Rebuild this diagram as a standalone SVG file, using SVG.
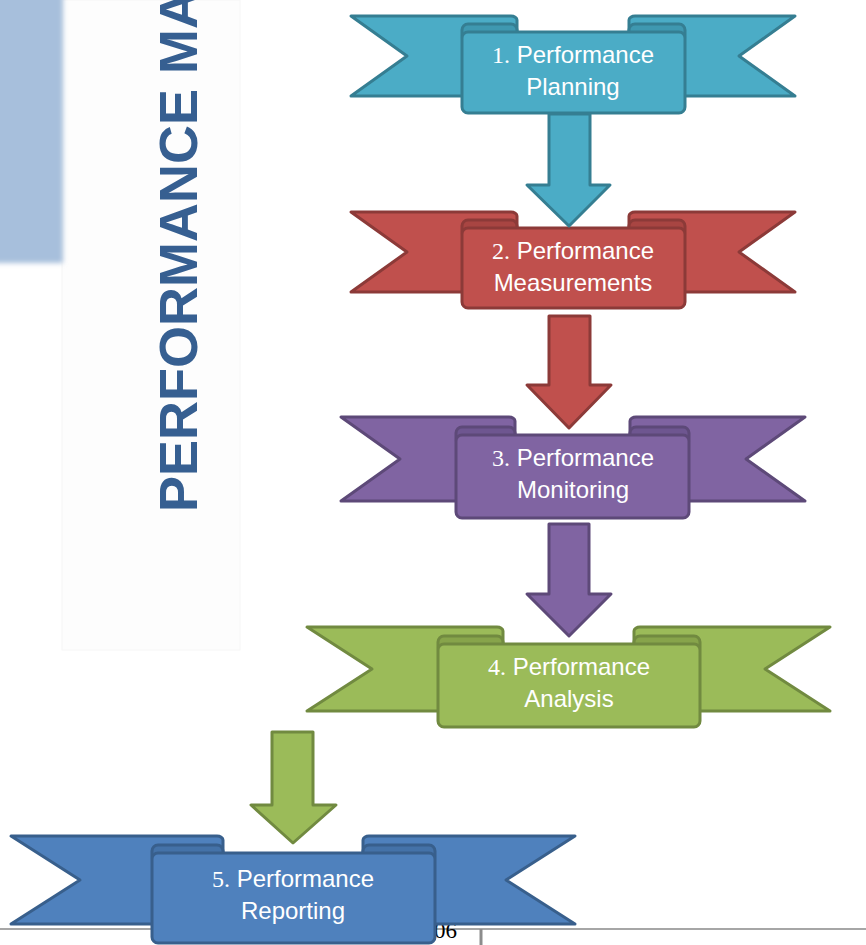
<svg xmlns="http://www.w3.org/2000/svg" width="866" height="945" viewBox="0 0 866 945">
<defs>
<filter id="soft" x="-20%" y="-20%" width="140%" height="140%"><feGaussianBlur stdDeviation="2.5"/></filter>
</defs>
<style>
.lbl{font-family:"Liberation Sans",Arial,sans-serif;font-size:24px;fill:#ffffff;text-anchor:middle}
.num{font-family:"Liberation Serif","Times New Roman",serif}
.s{stroke-width:3;stroke-linejoin:round}
.c1{fill:#4BACC6;stroke:#357E92}.c1r{fill:#3F98B0;stroke:#357E92}
.c2{fill:#C0504D;stroke:#8C3A38}.c2r{fill:#A84542;stroke:#8C3A38}
.c3{fill:#8064A2;stroke:#5D4978}.c3r{fill:#6E5690;stroke:#5D4978}
.c4{fill:#9BBB59;stroke:#718A40}.c4r{fill:#87A44B;stroke:#718A40}
.c5{fill:#4F81BD;stroke:#385F8C}.c5r{fill:#4472A8;stroke:#385F8C}
</style>
<rect width="866" height="945" fill="#ffffff"/>
<g id="background">
<rect x="62" y="0" width="178" height="650" fill="#FDFDFD" stroke="#F6F6F6" stroke-width="1"/>
<rect x="-10" y="-10" width="73" height="273" fill="#A7BFDC" filter="url(#soft)"/>
<text transform="translate(197,512) rotate(-90)" font-family="'Liberation Sans',Arial,sans-serif" font-size="54" font-weight="bold" fill="#365F91">PERFORMANCE MA</text>
<line x1="0" y1="929" x2="866" y2="929" stroke="#A6A6A6" stroke-width="2"/>
<line x1="481" y1="929" x2="481" y2="945" stroke="#8C8C8C" stroke-width="3"/>
<text x="434" y="938" font-family="'Liberation Serif','Times New Roman',serif" font-size="23" fill="#000000">06</text>
</g>
<g id="node1">
<path class="s c1" d="M351,16 H511 A6,4 0 0 1 517,20 V96 H351 L407,56 Z"/>
<path class="s c1" d="M795,16 H635 A6,4 0 0 0 629,20 V96 H795 L739,56 Z"/>
<rect class="s c1r" x="462" y="24" width="55" height="18" rx="6"/>
<rect class="s c1r" x="629" y="24" width="56" height="18" rx="6"/>
<rect class="s c1" x="462" y="32" width="223" height="81" rx="6"/>
<text class="lbl" x="573" y="63"><tspan class="num">1.</tspan> Performance</text>
<text class="lbl" x="573" y="95">Planning</text>
</g>
<g id="node2">
<path class="s c2" d="M351,212 H511 A6,4 0 0 1 517,216 V292 H351 L407,252 Z"/>
<path class="s c2" d="M795,212 H635 A6,4 0 0 0 629,216 V292 H795 L739,252 Z"/>
<rect class="s c2r" x="462" y="220" width="55" height="18" rx="6"/>
<rect class="s c2r" x="629" y="220" width="56" height="18" rx="6"/>
<rect class="s c2" x="462" y="228" width="223" height="80" rx="6"/>
<text class="lbl" x="573" y="259"><tspan class="num">2.</tspan> Performance</text>
<text class="lbl" x="573" y="291">Measurements</text>
</g>
<g id="node3">
<path class="s c3" d="M341,417 H509 A6,4 0 0 1 515,421 V501 H341 L400,459 Z"/>
<path class="s c3" d="M805,417 H636 A6,4 0 0 0 630,421 V501 H805 L746,459 Z"/>
<rect class="s c3r" x="456" y="427" width="59" height="18" rx="6"/>
<rect class="s c3r" x="630" y="427" width="59" height="18" rx="6"/>
<rect class="s c3" x="456" y="435" width="233" height="83" rx="6"/>
<text class="lbl" x="573" y="466"><tspan class="num">3.</tspan> Performance</text>
<text class="lbl" x="573" y="498">Monitoring</text>
</g>
<g id="node4">
<path class="s c4" d="M307,627 H497 A6,4 0 0 1 503,631 V711 H307 L372,669 Z"/>
<path class="s c4" d="M830,627 H640 A6,4 0 0 0 634,631 V711 H830 L765,669 Z"/>
<rect class="s c4r" x="438" y="636" width="65" height="18" rx="6"/>
<rect class="s c4r" x="634" y="636" width="66" height="18" rx="6"/>
<rect class="s c4" x="438" y="644" width="262" height="83" rx="6"/>
<text class="lbl" x="569" y="675"><tspan class="num">4.</tspan> Performance</text>
<text class="lbl" x="569" y="707">Analysis</text>
</g>
<g id="node5">
<path class="s c5" d="M11,836 H217 A6,4 0 0 1 223,840 V924 H11 L80,880 Z"/>
<path class="s c5" d="M575,836 H369 A6,4 0 0 0 363,840 V924 H575 L506,880 Z"/>
<rect class="s c5r" x="152" y="845" width="71" height="18" rx="6"/>
<rect class="s c5r" x="363" y="845" width="72" height="18" rx="6"/>
<rect class="s c5" x="152" y="853" width="283" height="90" rx="6"/>
<text class="lbl" x="293" y="887"><tspan class="num">5.</tspan> Performance</text>
<text class="lbl" x="293" y="919">Reporting</text>
</g>
<g id="connectors">
<path class="s c1" d="M549,114 H590 V185 H610 L569,226 L527,185 H549 Z"/>
<path class="s c2" d="M549,316 H590 V385 H611 L569,428 L527,385 H549 Z"/>
<path class="s c3" d="M549,524 H589 V594 H611 L569,636 L527,594 H549 Z"/>
<path class="s c4" d="M272,732 H313 V805 H336 L293,843 L251,805 H272 Z"/>
</g>
</svg>
